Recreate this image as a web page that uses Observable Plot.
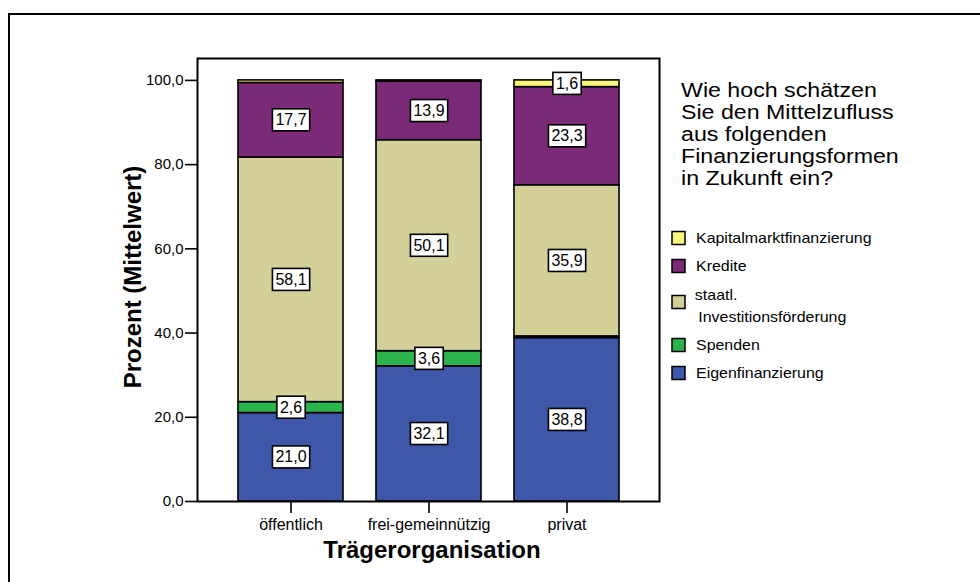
<!DOCTYPE html>
<html>
<head>
<meta charset="utf-8">
<script src="https://cdn.jsdelivr.net/npm/d3@7"></script>
<script src="https://cdn.jsdelivr.net/npm/@observablehq/plot@0.6"></script>
<style>
  html, body { margin: 0; padding: 0; background: #fff; }
  #chart { position: relative; width: 980px; height: 582px; overflow: hidden; }
</style>
</head>
<body>
<div id="chart"></div>
<script>
// ---- data ----
const categories = ["öffentlich", "frei-gemeinnützig", "privat"];
const series = ["Eigenfinanzierung", "Spenden", "staatl. Investitionsförderung", "Kredite", "Kapitalmarktfinanzierung"];
const eigenfinanzierung = [21.0, 32.1, 38.8];
const spenden = [2.6, 3.6, 0.4];
const staatlInvest = [58.1, 50.1, 35.9];
const kredite = [17.7, 13.9, 23.3];
const kapitalmarkt = [0.6, 0.3, 1.6];
const colors = ["#3f57a8", "#2bb34c", "#d4d09a", "#7b2a78", "#f8f77c"];
const yTicks = [0, 20, 40, 60, 80, 100];
const legendTitle = ["Wie hoch schätzen", "Sie den Mittelzufluss", "aus folgenden", "Finanzierungsformen", "in Zukunft ein?"];
const legendOrder = ["Kapitalmarktfinanzierung", "Kredite", "staatl. Investitionsförderung", "Spenden", "Eigenfinanzierung"];
const yLabel = "Prozent (Mittelwert)";
const xLabel = "Trägerorganisation";

const valuesBySeries = [eigenfinanzierung, spenden, staatlInvest, kredite, kapitalmarkt];
const data = [];
series.forEach((s, si) => categories.forEach((c, ci) => data.push({cat: c, series: s, value: valuesBySeries[si][ci]})));

const fmt = v => v.toFixed(1).replace(".", ",");
const FONT = "'Liberation Sans', Arial, sans-serif";

const plot = Plot.plot({
  width: 980,
  height: 582,
  marginLeft: 197,
  marginRight: 321,
  marginTop: 58,
  marginBottom: 81,
  style: {fontFamily: FONT, fontSize: "15px", color: "black", background: "white", overflow: "visible"},
  x: {domain: categories, paddingInner: 0.242, paddingOuter: 0.292, label: null},
  y: {domain: [0, 105.2], label: null},
  color: {domain: series, range: colors},
  marks: [
    Plot.barY(data, {x: "cat", y: "value", fill: "series", stroke: "black", strokeWidth: 1.6}),
    Plot.text(data, Plot.stackY({x: "cat", y: "value", z: "series",
      text: d => d.value >= 1 ? fmt(d.value) : "", fontSize: 16, fill: "black", ariaLabel: () => "seglabel"})),
    Plot.axisY({ticks: yTicks, tickFormat: fmt, tickSize: 12, tickPadding: 2, fontSize: 15, label: null, strokeWidth: 1.6}),
    Plot.axisX({tickSize: 12, tickPadding: 5, fontSize: 16, label: null, strokeWidth: 1.6}),
    Plot.frame({stroke: "black", strokeWidth: 2})
  ]
});

document.getElementById("chart").appendChild(plot);

const svg = d3.select(plot);
// outer frame behind everything
svg.insert("rect", ":first-child")
  .attr("x", 9).attr("y", 14).attr("width", 1200).attr("height", 800)
  .attr("fill", "white").attr("stroke", "black").attr("stroke-width", 2);

// white label boxes behind the segment labels
svg.selectAll("text[aria-label=seglabel]").each(function () {
  if (!this.textContent) return;
  const el = this;
  const b = el.getBBox();
  const h = 22;
  const cy = b.y + b.height / 2;
  const r = document.createElementNS("http://www.w3.org/2000/svg", "rect");
  if (el.getAttribute("transform")) r.setAttribute("transform", el.getAttribute("transform"));
  r.setAttribute("x", b.x - 3);
  r.setAttribute("y", cy - h / 2);
  r.setAttribute("width", b.width + 6);
  r.setAttribute("height", h);
  r.setAttribute("fill", "white");
  r.setAttribute("stroke", "black");
  r.setAttribute("stroke-width", 1.6);
  el.parentNode.insertBefore(r, el);
});

// axis titles
svg.append("text")
  .attr("transform", "translate(141,277) rotate(-90)")
  .attr("text-anchor", "middle")
  .attr("font-family", FONT).attr("font-weight", "bold").attr("font-size", 24)
  .text(yLabel);
svg.append("text")
  .attr("x", 432).attr("y", 558)
  .attr("text-anchor", "middle")
  .attr("font-family", FONT).attr("font-weight", "bold").attr("font-size", 24)
  .text(xLabel);

// legend title
const lt = svg.append("text").attr("font-family", FONT).attr("font-size", 20).attr("text-anchor", "start")
  .attr("transform", "translate(681,0) scale(1.16,1)");
legendTitle.forEach((line, i) => lt.append("tspan").attr("x", 0).attr("y", 97 + i * 22).text(line));

// legend items
const centers = [238, 266, 302, 345, 373];
legendOrder.forEach((s, i) => {
  const g = svg.append("g");
  g.append("rect").attr("x", 672).attr("y", centers[i] - 6.5).attr("width", 13).attr("height", 13)
    .attr("fill", colors[series.indexOf(s)]).attr("stroke", "black").attr("stroke-width", 1.5);
  const t = g.append("text").attr("font-family", FONT).attr("font-size", 14).attr("text-anchor", "start")
    .attr("transform", "translate(696,0) scale(1.14,1)");
  if (s.startsWith("staatl.")) {
    t.append("tspan").attr("x", -1).attr("y", centers[i] - 2).text("staatl.");
    t.append("tspan").attr("x", 2).attr("y", centers[i] + 20).text("Investitionsförderung");
  } else {
    t.attr("x", 0).attr("y", centers[i] + 5).text(s);
  }
});
</script>
</body>
</html>
